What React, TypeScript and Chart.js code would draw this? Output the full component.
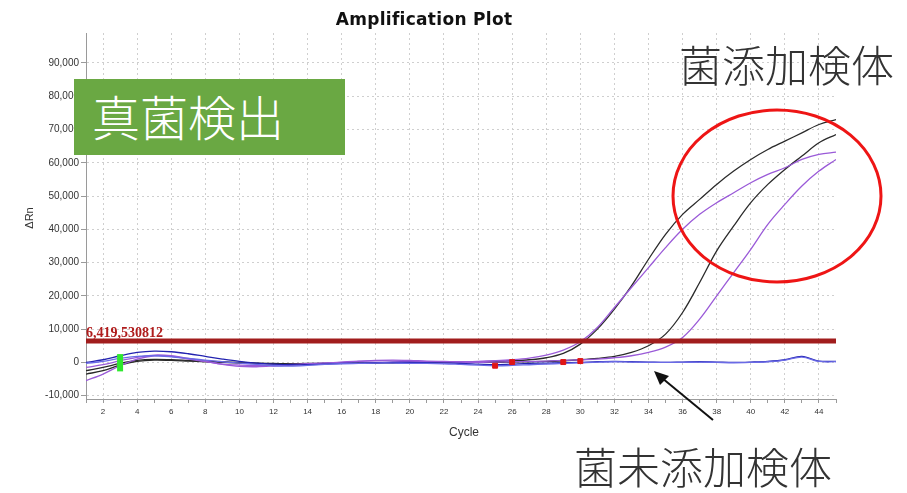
import React, { useEffect, useRef } from "react";
import { Chart, registerables } from "chart.js";

Chart.register(...registerables);

const cycles = [1,2,3,4,5,6,7,8,9,10,11,12,13,14,15,16,17,18,19,20,21,22,23,24,25,26,27,28,29,30,31,32,33,34,35,36,37,38,39,40,41,42,43,44,45];

const blackEarly = [-2500,-1500,-300,600,900,800,600,400,200,0,-200,-300,-400,-400,-300,-300,-200,-200,-100,-100,0,0,100,200,300,500,800,1400,2700,5500,10000,16000,23000,31000,38500,44500,49000,53500,57500,61000,64000,66500,69000,71500,73000];
const blackLate = [-3500,-2500,-800,300,700,600,400,200,0,-200,-300,-400,-400,-300,-300,-200,-200,-100,-100,-100,0,0,0,0,0,100,200,300,500,800,1200,1800,3000,5000,8500,15000,24000,33500,41000,48000,53500,58000,62000,66000,68500];
const purpleEarly = [-5500,-3500,-1000,1000,2000,1800,1000,300,-500,-800,-900,-800,-600,-400,-200,0,300,600,700,600,400,300,200,300,500,800,1300,2200,3700,6200,10500,16500,22500,28500,34500,40000,44500,48000,51000,54000,56500,58500,61000,62500,63200];
const purpleLate = [-1500,-700,500,1500,2200,2000,1200,300,-600,-1200,-1300,-1100,-800,-500,-200,100,400,500,400,300,200,100,0,0,100,200,300,400,600,800,1000,1400,2000,3000,4600,7500,13000,20000,27000,34000,41500,47500,53000,57500,61000];
const blueDark = [0,800,2000,3000,3400,3200,2600,1800,1000,300,-200,-500,-700,-700,-500,-300,-200,-100,0,0,-100,-200,-300,-500,-700,-500,-300,-200,-100,0,200,300,200,100,0,100,200,100,0,100,300,800,1800,400,300];
const blueLight = [-300,300,1200,1800,2000,1700,1200,700,200,-200,-600,-1000,-1100,-900,-600,-400,-300,-200,-200,-300,-300,-400,-600,-800,-1000,-900,-700,-500,-300,-100,100,200,100,0,0,0,100,0,-100,0,200,700,1600,300,200];

const THRESHOLD = 6419.530812;
const THRESHOLD_LABEL = "6,419,530812";
const markerCycles = [25, 26, 29, 30];
const markerValues = [-1000, 100, 100, 400];
const baselineCycle = 3;
const baselineRange = [-2700, 2500];
const yTicks = [-10000, 0, 10000, 20000, 30000, 40000, 50000, 60000, 70000, 80000, 90000];

const TITLE = "Amplification Plot";
const X_TITLE = "Cycle";
const Y_TITLE = "ΔRn";

const pts = (arr: number[]) => arr.map((y, i) => ({ x: cycles[i], y }));

const textPlugin = {
  id: "texts",
  afterDraw(chart: any) {
    const { ctx, chartArea } = chart;
    ctx.save();
    ctx.fillStyle = "#111";
    ctx.font = "bold 17px 'DejaVu Sans'";
    try { (ctx as any).letterSpacing = "0.3px"; } catch (e) {}
    ctx.textAlign = "center";
    ctx.textBaseline = "alphabetic";
    ctx.fillText(TITLE, 424, 25);
    try { (ctx as any).letterSpacing = "0px"; } catch (e) {}

    ctx.fillStyle = "#333";
    ctx.font = "12px 'Liberation Sans'";
    ctx.fillText(X_TITLE, (chartArea.left + chartArea.right) / 2 + 3, 436);

    ctx.save();
    ctx.translate(30, 218);
    ctx.rotate(-Math.PI / 2);
    ctx.font = "11px 'Liberation Sans'";
    ctx.textBaseline = "middle";
    ctx.fillText(Y_TITLE, 0, 0);
    ctx.restore();

    const yT = chart.scales.y.getPixelForValue(THRESHOLD);
    ctx.fillStyle = "#b01c1c";
    ctx.font = "bold 14px 'Liberation Serif'";
    ctx.textAlign = "left";
    ctx.fillText(THRESHOLD_LABEL, chartArea.left, yT - 4);
    ctx.restore();
  },
};

export default function App() {
  const ref = useRef<HTMLCanvasElement>(null);
  useEffect(() => {
    const canvas = ref.current!;
    const curve = (data: number[], color: string, w = 1.3) => ({
      data: pts(data),
      borderColor: color,
      borderWidth: w,
      pointRadius: 0,
      tension: 0.35,
      fill: false,
      order: 3,
    });
    const chart = new Chart(canvas, {
      type: "line",
      data: {
        datasets: [
          {
            data: markerCycles.map((c, i) => ({ x: c, y: markerValues[i] })),
            showLine: false,
            pointStyle: "rect",
            pointRadius: 3.5,
            pointBackgroundColor: "#e01515",
            pointBorderColor: "#e01515",
            borderColor: "#e01515",
            order: 0,
          } as any,
          {
            data: [{ x: baselineCycle, y: baselineRange[0] }, { x: baselineCycle, y: baselineRange[1] }],
            borderColor: "#2ee82e",
            borderWidth: 6,
            pointRadius: 0,
            borderCapStyle: "butt",
            order: 1,
          } as any,
          {
            data: [{ x: cycles[0], y: THRESHOLD }, { x: cycles[cycles.length - 1], y: THRESHOLD }],
            borderColor: "#a11d1d",
            borderWidth: 5,
            pointRadius: 0,
            order: 2,
          } as any,
          curve(blueLight, "#6a6ae6"),
          curve(blueDark, "#2222b0"),
          curve(purpleLate, "#9a5ad8"),
          curve(purpleEarly, "#9a5ad8"),
          curve(blackLate, "#2a2a2a"),
          curve(blackEarly, "#2a2a2a"),
        ],
      },
      options: {
        animation: false,
        responsive: false,
        devicePixelRatio: 1,
        layout: { padding: { left: 0, right: 71, top: 33, bottom: 54 } },
        plugins: { legend: { display: false }, tooltip: { enabled: false }, title: { display: false } },
        scales: {
          x: {
            type: "linear",
            min: 1,
            max: 45,
            afterFit: (s: any) => { s.height = 40; },
            ticks: {
              stepSize: 1,
              autoSkip: false,
              maxRotation: 0,
              padding: 4,
              color: "#333",
              font: { size: 8, family: "'Liberation Sans'" },
              callback: (v: any) => (Number(v) % 2 === 0 ? String(v) : ""),
            },
            grid: {
              color: (c: any) => (c.tick && c.tick.value % 2 === 0 && c.tick.value !== 45 ? "#cfcfcf" : "rgba(0,0,0,0)"),
              tickColor: "#9a9a9a",
              tickLength: 4,
              lineWidth: 1,
            },
            border: { color: "#9a9a9a", dash: [2, 3] },
          } as any,
          y: {
            type: "linear",
            min: -11000,
            max: 99000,
            afterFit: (s: any) => { s.width = 86; },
            afterBuildTicks: (s: any) => { s.ticks = yTicks.map((v) => ({ value: v })); },
            ticks: {
              padding: 2,
              color: "#333",
              font: { size: 10, family: "'Liberation Sans'" },
              callback: (v: any) => Number(v).toLocaleString("en-US"),
            },
            grid: {
              color: "#cfcfcf",
              tickColor: "#9a9a9a",
              tickLength: 5,
            },
            border: { color: "#9a9a9a", dash: [2, 3] },
          } as any,
        },
      },
      plugins: [textPlugin],
    });
    return () => chart.destroy();
  }, []);

  const cjk = "'Noto Sans CJK JP', sans-serif";
  return (
    <div style={{ position: "absolute", left: 0, top: 0, width: 907, height: 493, background: "#fff", overflow: "hidden" }}>
      <canvas ref={ref} width={907} height={493} style={{ position: "absolute", left: 0, top: 0, width: 907, height: 493 }} />
      <div style={{ position: "absolute", left: 74, top: 79, width: 271, height: 76, background: "#6aa843" }}>
        <div style={{ position: "absolute", left: 18, top: 12, fontFamily: cjk, fontWeight: 300, fontSize: 48, lineHeight: 1, color: "#fff", whiteSpace: "nowrap" }}>真菌検出</div>
      </div>
      <div style={{ position: "absolute", left: 679, top: 42, fontFamily: cjk, fontWeight: 300, fontSize: 43, lineHeight: 1, color: "#333", whiteSpace: "nowrap" }}>菌添加検体</div>
      <div style={{ position: "absolute", left: 574, top: 444, fontFamily: cjk, fontWeight: 300, fontSize: 43, lineHeight: 1, color: "#333", whiteSpace: "nowrap" }}>菌未添加検体</div>
      <svg width={907} height={493} style={{ position: "absolute", left: 0, top: 0, pointerEvents: "none" }}>
        <ellipse cx={777} cy={196} rx={104} ry={86} fill="none" stroke="#ee1515" strokeWidth={3} />
        <line x1={713} y1={420} x2={662} y2={378} stroke="#111" strokeWidth={2} />
        <polygon points="654,371 669,376 660,385" fill="#111" />
      </svg>
    </div>
  );
}
